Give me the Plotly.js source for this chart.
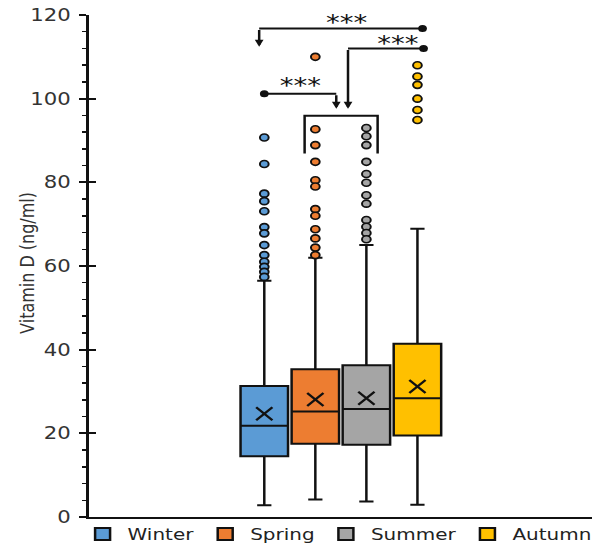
<!DOCTYPE html>
<html><head><meta charset="utf-8">
<script src="https://cdn.plot.ly/plotly-3.0.1.min.js"></script>
<style>
html,body{margin:0;padding:0;overflow:hidden;background:#fff;}
#chart{width:474px;height:548px;transform:scaleX(1.249);transform-origin:0 0;}
</style>
</head><body><div id="chart"></div>
<script>
// ---- data ----
const seasons = ['Winter', 'Spring', 'Summer', 'Autumn'];
const positions = [0, 1, 2, 3];
const colors = ['#5B9BD5', '#ED7D31', '#A5A5A5', '#FFC000'];
const q1 = [14.5, 17.5, 17.3, 19.5];
const medians = [21.8, 25.2, 25.8, 28.4];
const q3 = [31.3, 35.3, 36.3, 41.4];
const lowerWhisker = [2.8, 4.2, 3.7, 2.9];
const upperWhisker = [56.5, 62.0, 65.0, 68.9];
const means = [24.7, 28.1, 28.4, 31.2];
const outWinter = [90.7, 84.4, 77.3, 75.5, 73.1, 69.3, 67.8, 65.0, 62.6, 61.0, 59.8, 58.6, 57.4];
const outSpring = [110.0, 92.7, 88.9, 84.9, 80.5, 79.0, 73.6, 72.0, 68.8, 66.6, 64.4, 62.6];
const outSummer = [93.0, 91.0, 88.9, 84.9, 82.0, 79.9, 76.9, 74.9, 71.0, 69.4, 67.9, 66.4];
const outAutumn = [108.0, 105.3, 103.3, 100.0, 97.3, 94.9];
const outliers = [outWinter, outSpring, outSummer, outAutumn];

// significance markers
const bracketY = [116.8, 112.0, 101.2];
const bracketFromX = [3.1, 3.12, 0.0];
const bracketToX = [-0.1, 1.64, 1.41];
const arrowTipY = [112.4, 97.6, 97.6];
const starX = [1.6, 2.61, 0.71];
const starY = [119.2, 114.1, 104.2];
const starLabels = ['***', '***', '***'];
const groupBracketX = [0.79, 0.79, 2.22, 2.22];
const groupBracketY = [86.9, 95.9, 95.9, 86.9];

// ---- traces ----
const traces = [];
seasons.forEach((s, i) => {
  traces.push({
    type: 'box', name: s, x: [positions[i]],
    q1: [q1[i]], median: [medians[i]], q3: [q3[i]],
    lowerfence: [lowerWhisker[i]], upperfence: [upperWhisker[i]],
    width: 0.93, whiskerwidth: 0.3, boxpoints: false,
    fillcolor: colors[i], line: {color: '#111', width: 2},
    hoverinfo: 'skip', showlegend: true
  });
});
seasons.forEach((s, i) => {
  traces.push({
    type: 'scatter', mode: 'markers', showlegend: false, hoverinfo: 'skip',
    x: outliers[i].map(() => positions[i]), y: outliers[i],
    marker: {symbol: 'circle', size: 7, color: colors[i], line: {color: '#111', width: 1.6}}
  });
});
traces.push({
  type: 'scatter', mode: 'markers', showlegend: false, hoverinfo: 'skip', yaxis: 'y2',
  x: positions, y: means,
  marker: {symbol: 'x-thin', size: 13, line: {color: '#111', width: 2}}
});
bracketY.forEach((by, i) => {
  traces.push({
    type: 'scatter', mode: 'lines', showlegend: false, hoverinfo: 'skip',
    x: [bracketFromX[i], bracketToX[i]], y: [by, by],
    line: {color: '#111', width: 2}
  });
});
traces.push({
  type: 'scatter', mode: 'markers', showlegend: false, hoverinfo: 'skip',
  x: bracketFromX, y: bracketY,
  marker: {symbol: 'circle', size: 7, color: '#111'}
});
traces.push({
  type: 'scatter', mode: 'lines', showlegend: false, hoverinfo: 'skip',
  x: groupBracketX, y: groupBracketY,
  line: {color: '#111', width: 2}
});

const annotations = [];
bracketY.forEach((by, i) => {
  annotations.push({
    xref: 'x', yref: 'y', axref: 'x', ayref: 'y',
    x: bracketToX[i], y: arrowTipY[i], ax: bracketToX[i], ay: by,
    text: '', showarrow: true, arrowhead: 2, arrowsize: 0.7, arrowwidth: 2, arrowcolor: '#111', standoff: 0, startstandoff: 0
  });
  annotations.push({
    xref: 'x', yref: 'y', x: starX[i], y: starY[i], text: starLabels[i],
    showarrow: false, xanchor: 'center', yanchor: 'middle', yshift: -4,
    font: {family: 'DejaVu Sans', size: 22, color: '#111'}
  });
});
annotations.push({
  xref: 'paper', yref: 'paper', x: -0.123, y: 0.507, textangle: -90,
  text: 'Vitamin D (ng/ml)', showarrow: false, xanchor: 'center', yanchor: 'middle',
  font: {family: 'DejaVu Sans', size: 16, color: '#333'}
});

const layout = {
  width: 474, height: 548,
  margin: {l: 71, r: 0, t: 15, b: 31, pad: 0, autoexpand: false},
  paper_bgcolor: '#fff', plot_bgcolor: '#fff',
  font: {family: 'DejaVu Sans', color: '#222'},
  showlegend: true,
  boxmode: 'overlay',
  xaxis: {
    type: 'linear', range: [-3.44, 6.42], showticklabels: false, ticks: '',
    showgrid: false, zeroline: false, showline: true, linecolor: '#111', linewidth: 2,
    automargin: false, fixedrange: true
  },
  yaxis: {
    range: [0, 120], tick0: 0, dtick: 20, ticks: 'outside', ticklen: 6, tickwidth: 2, tickcolor: '#111',
    minor: {ticks: 'outside', ticklen: 3.5, tickwidth: 1.5, tick0: 0, dtick: 4, tickcolor: '#111', showgrid: false},
    showgrid: false, zeroline: false, showline: true, linecolor: '#111', linewidth: 2,
    tickfont: {family: 'DejaVu Sans', size: 17, color: '#333'}, ticklabelstandoff: 3,
    automargin: false, fixedrange: true
  },
  yaxis2: {
    overlaying: 'y', anchor: 'x', side: 'left', range: [0, 120], tick0: 0, dtick: 20,
    ticks: 'inside', ticklen: 6, tickwidth: 2, tickcolor: '#111', showticklabels: false,
    showgrid: false, zeroline: false, showline: false, automargin: false, fixedrange: true
  },
  legend: {
    orientation: 'h', xref: 'paper', yref: 'paper', x: -0.022, y: 0,
    xanchor: 'left', yanchor: 'top', bgcolor: 'rgba(0,0,0,0)', borderwidth: 0,
    font: {family: 'DejaVu Sans', size: 16, color: '#222'}, itemwidth: 30, traceorder: 'normal'
  },
  annotations: annotations
};

Plotly.newPlot('chart', traces, layout, {displayModeBar: false, staticPlot: true});
</script></body></html>
